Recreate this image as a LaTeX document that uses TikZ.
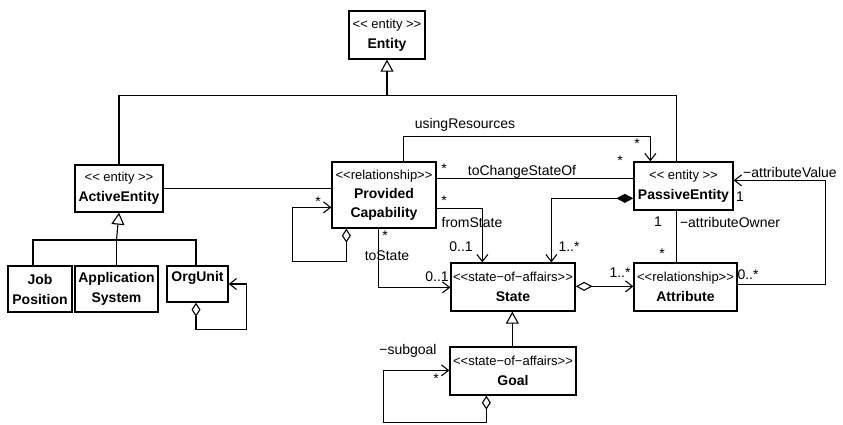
\documentclass[tikz,border=0pt]{standalone}
\usepackage{fontspec}
\setmainfont{Liberation Sans}
\usetikzlibrary{arrows.meta,calc}
\newcommand\stL{<\kern0pt<}
\newcommand\stR{>\kern0pt>}
\newcommand\ster[1]{{\fontsize{13}{20}\selectfont #1}}
\begin{document}
\begin{tikzpicture}[x=1pt,y=-1pt,
  box/.style={draw, line width=1.3pt, inner sep=0pt, align=center, font=\fontsize{14}{20}\selectfont},
  nm/.style={inner sep=0pt, font=\fontsize{14}{20}\selectfont\bfseries},
  lbl/.style={inner sep=0pt, font=\fontsize{14}{16}\selectfont},
  ln/.style={line width=1.1pt},
  barb/.style={ln, -{Straight Barb[length=7pt,width=11pt]}},
  gen/.style={ln, -{Triangle[open,length=12pt,width=13pt,fill=white]}},
  aggv/.style={ln, {Diamond[open,length=14pt,width=9pt,fill=white]}-{Straight Barb[length=7pt,width=11pt]}},
  aggh/.style={ln, {Diamond[open,length=17pt,width=9pt,fill=white]}-{Straight Barb[length=7pt,width=11pt]}},
  comp/.style={ln, {Diamond[length=17pt,width=9pt]}-{Straight Barb[length=7pt,width=11pt]}}
]
\useasboundingbox (0,0) rectangle (843,424);
\fill[white] (0,0) rectangle (843,424);

% classes
\node[box, minimum width=76pt, minimum height=48pt] (entity) at (387,35) {\ster{\stL{} entity \stR}\\\textbf{Entity}};
\node[box, minimum width=88pt, minimum height=47pt] (active) at (119,188.5) {\ster{\stL{} entity \stR}\\\textbf{ActiveEntity}};
\node[box, minimum width=64pt, minimum height=46pt] (job) at (40,289) {\textbf{Job}\\\textbf{Position}};
\node[box, minimum width=83pt, minimum height=46pt] (app) at (116.5,289) {\textbf{Application}\\\textbf{System}};
\node[box, minimum width=61pt, minimum height=36pt] (org) at (197.5,284) {};
\node[nm] (orgt) at (197.5,278) {OrgUnit};
\node[box, minimum width=104pt, minimum height=66pt] (pc) at (384,195) {\ster{\stL relationship\stR}\\[-1pt]\textbf{Provided}\\[-1pt]\textbf{Capability}};
\node[box, minimum width=99pt, minimum height=48pt] (passive) at (683.5,186) {\ster{\stL{} entity \stR}\\\textbf{PassiveEntity}};
\node[box, minimum width=124pt, minimum height=48pt] (state) at (513,287) {\ster{\stL state−of−affairs\stR}\\\textbf{State}};
\node[box, minimum width=103pt, minimum height=48pt] (attr) at (685.5,287) {\ster{\stL relationship\stR}\\\textbf{Attribute}};
\node[box, minimum width=126pt, minimum height=48pt] (goal) at (513,371) {\ster{\stL state−of−affairs\stR}\\\textbf{Goal}};

% generalization to Entity
\coordinate (gj) at (387,96);
\coordinate (gr) at ($(passive.north west)+(43,-66)$);
\draw[ln] (active.north) |- (gr) -- ($(passive.north west)+(43,0)$);
\draw[gen] (gj) -- (entity.south);

% generalization to ActiveEntity
\coordinate (aj) at (116.5,240);
\draw[ln] ($(job.north)+(-7,0)$) |- (aj) -| ($(org.north)+(-1.5,0)$);
\draw[ln] (app.north) -- (aj);
\draw[gen] (aj) -- (active.south);

% OrgUnit self aggregation
\draw[aggv] ($(org.south)+(-1.5,0)$) -- ++(0,27) -| ($(org.east)+(18,0)$) -- (org.east);

% ActiveEntity -- ProvidedCapability
\draw[ln] (active.east) -- (active.east -| pc.west);

% usingResources
\draw[barb] ($(pc.north west)+(72,0)$) -- ++(0,-25) -| ($(passive.north west)+(17,0)$);
% toChangeStateOf
\draw[ln] ($(pc.north east)+(0,17)$) -- ($(passive.north west)+(0,17)$);
% fromState
\draw[barb] ($(pc.north east)+(0,47)$) -| ($(state.north west)+(32,0)$);
% toState
\draw[barb] ($(pc.south west)+(47,0)$) |- ($(state.north west)+(0,25)$);
% PC self aggregation
\draw[aggv] ($(pc.south west)+(15,0)$) -- ++(0,33) -| ($(pc.north west)+(-39,46)$) -- ($(pc.north west)+(0,46)$);

% composition PassiveEntity -> State
\draw[comp] ($(passive.north west)+(0,37)$) -| ($(state.north west)+(101,0)$);
% aggregation State -> Attribute
\draw[aggh] ($(state.north east)+(0,24)$) -- ($(attr.north west)+(0,24)$);
% attributeOwner
\draw[ln] ($(passive.south west)+(43,0)$) -- ($(attr.north west)+(43,0)$);
% attributeValue
\draw[barb] ($(attr.north east)+(0,22)$) -- ++(88,0) |- ($(passive.north east)+(0,19)$);

% Goal generalization
\coordinate (gt) at ($(goal.north west)+(63,0)$);
\draw[gen] (gt) -- (gt |- state.south);
% Goal self aggregation
\draw[aggv] ($(goal.south west)+(37,0)$) -- ++(0,27) -| ($(goal.north west)+(-66,24)$) -- ($(goal.north west)+(0,24)$);

% labels
\node[lbl] (l1) at (465,125) {usingResources};
\node[lbl] (l2) at (637,144) {*};
\node[lbl] (l3) at (620,161) {*};
\node[lbl] (l4) at (444,169) {*};
\node[lbl] (l5) at (522,172) {toChangeStateOf};
\node[lbl] (l6) at (444,201) {*};
\node[lbl] (l7) at (472,222) {fromState};
\node[lbl] (l8) at (461,247) {0..1};
\node[lbl] (l9) at (569,247) {1..*};
\node[lbl] (l10) at (385,236) {*};
\node[lbl] (l11) at (387,256) {toState};
\node[lbl] (l12) at (437,277) {0..1};
\node[lbl] (l13) at (318,202) {*};
\node[lbl] (l14) at (620,273) {1..*};
\node[lbl] (l15) at (658,222) {1};
\node[lbl] (l16) at (730,222) {−attributeOwner};
\node[lbl] (l17) at (662,254) {*};
\node[lbl] (l18) at (790,172) {−attributeValue};
\node[lbl] (l19) at (740,197) {1};
\node[lbl] (l20) at (748,275) {0..*};
\node[lbl] (l21) at (408,351) {−subgoal};
\node[lbl] (l22) at (436,379) {*};
\end{tikzpicture}
\end{document}
